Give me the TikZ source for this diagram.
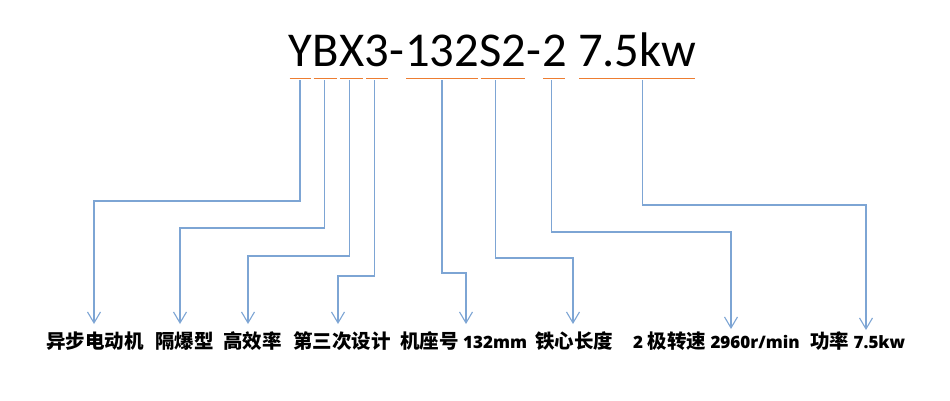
\documentclass[tikz,border=0pt]{standalone}
\usepackage{fontspec}
\setmainfont{Carlito}
\newfontfamily\cjk{Noto Sans CJK SC}
\newfontfamily\lat{Open Sans Bold}
\newcommand\latb[1]{{\lat\fontsize{17}{22}\selectfont #1}}
\usetikzlibrary{positioning,arrows.meta}
\definecolor{linkblue}{RGB}{125,165,212}
\definecolor{ulorange}{RGB}{237,125,49}
\tikzset{
  part/.style={inner sep=0pt, font=\fontsize{48.6}{58}\selectfont},
  lbl/.style={inner sep=0pt, anchor=base west, font={\cjk\bfseries\fontsize{19.5}{23}\selectfont}},
  uline/.style={draw=ulorange, line width=0.9pt, shorten <=1.5pt, shorten >=1.5pt},
  link/.style={draw=linkblue, line width=1.1pt, -{Straight Barb[length=11pt,width=13pt]}}
}
\begin{document}
\begin{tikzpicture}[x=1pt,y=-1pt]
  \useasboundingbox (0,0) rectangle (950,400);
  % model code, split into its parts
  \node[part, anchor=base west] (tY) at (288,66) {Y};
  \node[part, base right=0pt of tY] (tB) {B};
  \node[part, base right=0pt of tB] (tX) {X};
  \node[part, base right=0pt of tX] (t3) {3};
  \node[part, base right=0pt of t3] (tDa) {-};
  \node[part, base right=0pt of tDa] (tF) {132};
  \node[part, base right=0pt of tF] (tS) {S2};
  \node[part, base right=0pt of tS] (tDb) {-};
  \node[part, base right=0pt of tDb] (tP) {2};
  \node[part, base right=11pt of tP] (tW) {7.5kw};
  \foreach \p in {tY,tB,tX,t3,tF,tS,tP,tW}
    \draw[uline] ([yshift=-12pt]\p.base west) -- ([yshift=-12pt]\p.base east);
  % meanings
  \node[lbl] (lA) at (46,348) {异步电动机};
  \node[lbl] (lB) at (155,348) {隔爆型};
  \node[lbl] (lC) at (223,348) {高效率};
  \node[lbl] (lD) at (293,348) {第三次设计};
  \node[lbl] (lE) at (400,348) {机座号\latb{\ 132mm}};
  \node[lbl] (lF) at (535,348) {铁心长度};
  \node[lbl] (lG) at (633,348) {\latb{2\ }极转速\latb{\ 2960r/min}};
  \node[lbl] (lH) at (810,348) {功率\latb{\ 7.5kw}};
  \foreach \p/\sx/\dy/\l/\tx/\ty in {tY/0/121/lA/48/24, tB/-1/148/lB/25/24,
      tX/-2/176/lC/25/24, t3/-2.5/196/lD/45/24, tF/0/193/lE/66/24,
      tS/-7/178/lF/38/24, tP/-3/152/lG/98/19, tW/5.5/125/lH/56/18}
    \draw[link] ([xshift=\sx pt,yshift=-14pt]\p.base) -- ++(0,\dy)
      -| ([xshift=\tx pt,yshift=\ty pt]\l.base west);
\end{tikzpicture}
\end{document}
